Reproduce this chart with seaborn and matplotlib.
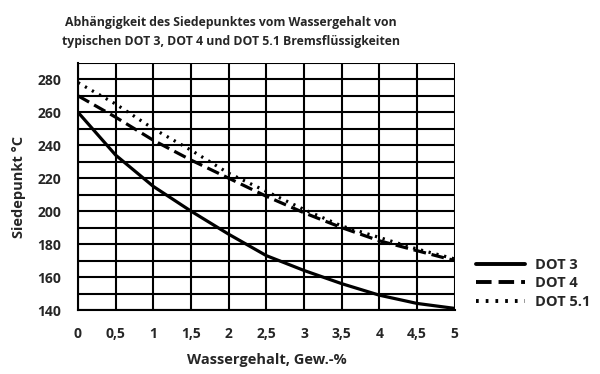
import numpy as np
import pandas as pd
import seaborn as sns
import matplotlib.pyplot as plt
from matplotlib.ticker import MultipleLocator, FuncFormatter

# values
water = [0, 0.5, 1, 1.5, 2, 2.5, 3, 3.5, 4, 4.5, 5]
dot3 = [260, 234, 215, 200, 186, 173, 164, 156, 149, 144, 141]
dot4 = [270, 257, 243, 231, 220, 209, 199, 190, 182, 176, 170]
dot51 = [278, 265, 250, 237, 223, 212, 201, 191, 184, 177, 171]
series_names = ["DOT 3", "DOT 4", "DOT 5.1"]

df = pd.DataFrame({
    "water": water * 3,
    "bp": dot3 + dot4 + dot51,
    "fluid": np.repeat(series_names, len(water)),
})

sns.set_style("white")
plt.rcParams["font.family"] = ["Open Sans", "DejaVu Sans"]
plt.rcParams["font.weight"] = "bold"

fig = plt.figure(figsize=(6, 3.74), dpi=100)
ax = fig.add_axes([0.13, 0.171, 0.628, 0.661])

dashes = {"DOT 3": "", "DOT 4": (4, 1.8), "DOT 5.1": (0.7, 1.8)}
sns.lineplot(data=df, x="water", y="bp", hue="fluid", style="fluid",
             palette=["black"] * 3, dashes=dashes, linewidth=2.3, ax=ax)

ax.set_xlim(0, 5)
ax.set_ylim(140, 290)
ax.xaxis.set_major_locator(MultipleLocator(0.5))
ax.yaxis.set_minor_locator(MultipleLocator(10))
ax.set_yticks(np.arange(140, 281, 20))
ax.xaxis.set_major_formatter(FuncFormatter(lambda v, p: f"{v:g}".replace(".", ",")))

ax.grid(True, which="both", color="black", linewidth=1.5)
ax.set_axisbelow(True)
for side in ["top", "right"]:
    ax.spines[side].set_visible(False)
for side in ["left", "bottom"]:
    ax.spines[side].set_linewidth(1.5)
    ax.spines[side].set_color("black")

ax.tick_params(axis="both", which="major", direction="out", length=8, width=1.5,
               labelsize=10, color="black", pad=4)
ax.tick_params(axis="y", which="minor", length=0)
for lab in ax.get_xticklabels() + ax.get_yticklabels():
    lab.set_fontweight("bold")

ax.set_xlabel("Wassergehalt, Gew.-%", fontsize=10.5, fontweight="bold", labelpad=9)
ax.set_ylabel("Siedepunkt °C", fontsize=10.5, fontweight="bold", labelpad=8)

leg = ax.legend(loc="upper left", bbox_to_anchor=(1.04, 0.235), frameon=False,
                handlelength=3.4, handletextpad=0.7, labelspacing=0.32,
                prop={"size": 10.5, "weight": "bold"}, borderaxespad=0)
for line in leg.get_lines():
    line.set_linewidth(2.8)

fig.text(0.385, 0.915, "Abhängigkeit des Siedepunktes vom Wassergehalt von\n"
         "typischen DOT 3, DOT 4 und DOT 5.1 Bremsflüssigkeiten",
         ha="center", va="center", fontsize=8.8, fontweight="bold", linespacing=1.65)

fig.savefig("out.png", dpi=100)
